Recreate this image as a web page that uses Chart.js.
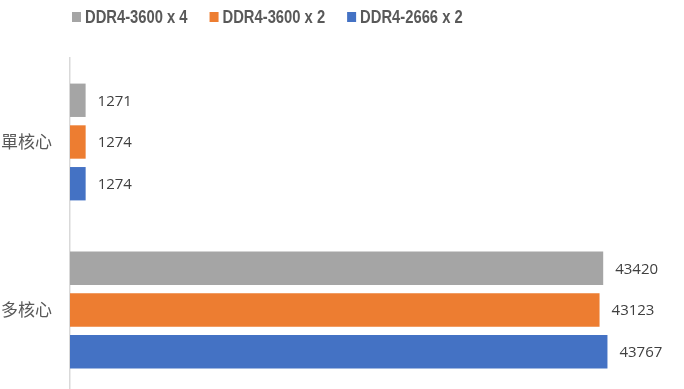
<!DOCTYPE html>
<html>
<head>
<meta charset="utf-8">
<script src="https://cdn.jsdelivr.net/npm/chart.js@4/dist/chart.umd.min.js"></script>
<style>
  html, body { margin: 0; padding: 0; background: #fff; overflow: hidden; }
  canvas { display: block; }
</style>
</head>
<body>
<canvas id="chart" width="684" height="394"></canvas>
<script>
// data
var categories = ['單核心', '多核心'];
var seriesNames = ['DDR4-3600 x 4', 'DDR4-3600 x 2', 'DDR4-2666 x 2'];
var ddr3600x4 = [1271, 43420];
var ddr3600x2 = [1274, 43123];
var ddr2666x2 = [1274, 43767];
var xMax = 50000;

var colors = ['#A5A5A5', '#ED7D31', '#4472C4'];

// values printed at the end of each bar
var barValues = {
    id: 'barValues',
    afterDatasetsDraw(chart) {
        var ctx = chart.ctx;
        ctx.save();
        ctx.font = '15px "Open Sans", sans-serif';
        ctx.fillStyle = '#404040';
        ctx.textAlign = 'left';
        ctx.textBaseline = 'middle';
        chart.data.datasets.forEach(function (ds, i) {
            chart.getDatasetMeta(i).data.forEach(function (bar, j) {
                ctx.fillText(ds.data[j], bar.x + 12, bar.y + 1);
            });
        });
        ctx.restore();
    }
};

// legend row like the Excel one (sits left of centre, narrow bold text)
var topLegend = {
    id: 'topLegend',
    afterDraw(chart) {
        var ctx = chart.ctx;
        var squeeze = 0.82;
        var x = 72;
        ctx.save();
        ctx.font = 'bold 18px "Liberation Sans", sans-serif';
        ctx.textBaseline = 'middle';
        ctx.textAlign = 'left';
        chart.data.datasets.forEach(function (ds) {
            ctx.fillStyle = ds.backgroundColor;
            ctx.fillRect(x, 12, 9, 10);
            ctx.fillStyle = '#595959';
            ctx.save();
            ctx.translate(x + 13, 18);
            ctx.scale(squeeze, 1);
            ctx.fillText(ds.label, 0, 0);
            ctx.restore();
            x += 13 + ctx.measureText(ds.label).width * squeeze + 22;
        });
        ctx.restore();
    }
};

var chartContent = document.getElementById('chart').getContext('2d');

const configChart = new Chart(chartContent, {
    type: 'bar',
    data: {
        labels: categories,
        datasets: [
            { label: seriesNames[0], data: ddr3600x4, backgroundColor: colors[0] },
            { label: seriesNames[1], data: ddr3600x2, backgroundColor: colors[1] },
            { label: seriesNames[2], data: ddr2666x2, backgroundColor: colors[2] }
        ]
    },
    options: {
        indexAxis: 'y',
        responsive: false,
        animation: false,
        datasets: {
            bar: { categoryPercentage: 0.745, barPercentage: 0.8 }
        },
        layout: { padding: { top: 58, left: 0, right: 0, bottom: 0 } },
        scales: {
            x: { display: false, min: 0, max: xMax },
            y: {
                afterFit: function (scale) {
                    scale.width = 70;
                    scale.paddingTop = 0;
                    scale.paddingBottom = 0;
                },
                grid: { display: false, drawTicks: false },
                border: { display: true, color: '#D9D9D9', width: 1.5 },
                ticks: {
                    color: '#595959',
                    padding: 18,
                    font: { family: '"Noto Sans CJK TC", sans-serif', size: 17 }
                }
            }
        },
        plugins: {
            legend: { display: false },
            tooltip: { enabled: false }
        }
    },
    plugins: [barValues, topLegend]
});
</script>
</body>
</html>
